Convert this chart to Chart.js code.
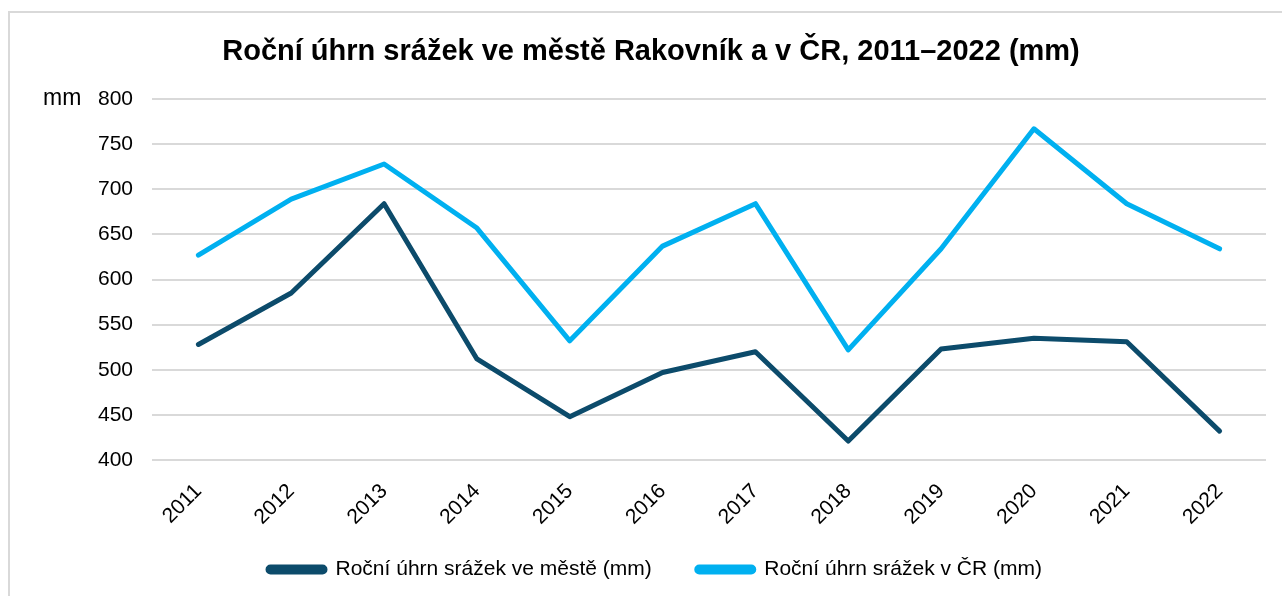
<!DOCTYPE html>
<html>
<head>
<meta charset="utf-8">
<script src="https://cdn.jsdelivr.net/npm/chart.js@4"></script>
<style>
  html, body { margin: 0; padding: 0; background: #fff; overflow: hidden; }
  #wrap { position: relative; width: 1282px; height: 596px; }
  #frame {
    position: absolute; left: 8px; top: 11px; width: 1300px; height: 620px;
    border: 2px solid #d9d9d9; box-sizing: border-box;
  }
  canvas { position: absolute; left: 0; top: 0; }
</style>
</head>
<body>
<div id="wrap">
  <div id="frame"></div>
  <canvas id="rainChart" width="1282" height="596"></canvas>
</div>
<script>
// Years on the x axis
const years = ["2011", "2012", "2013", "2014", "2015", "2016",
               "2017", "2018", "2019", "2020", "2021", "2022"];

// Annual precipitation in Rakovník (mm)
const cityRain = [528, 585, 684, 512, 448, 497, 520, 421, 523, 535, 531, 432];

// Annual precipitation in the whole Czech Republic (mm)
const czRain = [627, 689, 728, 657, 532, 637, 684, 522, 634, 767, 684, 634];

// Y axis range
const yMin = 400;
const yMax = 800;
const yStep = 50;

const titleText = "Roční úhrn srážek ve městě Rakovník a v ČR, 2011–2022 (mm)";
const darkBlue = "#0c4b6b";
const lightBlue = "#00b0f0";
const fontFamily = "'Liberation Sans', Arial, sans-serif";

// Title and the "mm" unit next to the top tick, drawn by hand
const extraText = {
  id: "extraText",
  afterDraw(chart) {
    const y = chart.scales.y;
    const ctx = chart.ctx;
    ctx.save();
    ctx.fillStyle = "#000";

    ctx.font = "bold 29px " + fontFamily;
    ctx.textAlign = "center";
    ctx.textBaseline = "alphabetic";
    ctx.fillText(titleText, 651, 60);

    ctx.font = "23px " + fontFamily;
    ctx.textAlign = "left";
    ctx.textBaseline = "middle";
    ctx.fillText("mm", 43, y.getPixelForValue(yMax));
    ctx.restore();
  },
};

const ctx = document.getElementById("rainChart").getContext("2d");
new Chart(ctx, {
  type: "line",
  data: {
    labels: years,
    datasets: [
      {
        label: "Roční úhrn srážek ve městě (mm)",
        data: cityRain,
        borderColor: darkBlue,
        backgroundColor: darkBlue,
        borderWidth: 5,
        pointRadius: 0,
        tension: 0,
        borderCapStyle: "round",
        borderJoinStyle: "round",
      },
      {
        label: "Roční úhrn srážek v ČR (mm)",
        data: czRain,
        borderColor: lightBlue,
        backgroundColor: lightBlue,
        borderWidth: 5,
        pointRadius: 0,
        tension: 0,
        borderCapStyle: "round",
        borderJoinStyle: "round",
      },
    ],
  },
  options: {
    responsive: false,
    animation: false,
    layout: { padding: { left: 44, right: 16, top: 99, bottom: 6 } },
    plugins: {
      title: { display: false },
      legend: {
        position: "bottom",
        labels: {
          color: "#000",
          font: { family: fontFamily, size: 21 },
          boxWidth: 57,
          boxHeight: 5,
          padding: 10,
          useBorderRadius: true,
          borderRadius: 2.5,
          // pad all but the last label with spaces to widen the gap between items
          generateLabels(chart) {
            const items = Chart.defaults.plugins.legend.labels.generateLabels(chart);
            items.forEach((item, i) => {
              if (i < items.length - 1) item.text += "      ";
            });
            return items;
          },
        },
      },
      tooltip: { enabled: false },
    },
    scales: {
      x: {
        offset: true,
        afterFit(scale) { scale.height = 89; },
        grid: { display: false, drawTicks: false },
        border: { display: false },
        ticks: {
          color: "#000",
          font: { family: fontFamily, size: 21 },
          maxRotation: 45,
          minRotation: 45,
          padding: 19,
        },
      },
      y: {
        min: yMin,
        max: yMax,
        afterFit(scale) { scale.width = 108; },
        grid: { color: "#d9d9d9", lineWidth: 2, drawTicks: false },
        border: { display: false },
        ticks: {
          stepSize: yStep,
          color: "#000",
          font: { family: fontFamily, size: 21 },
          padding: 19,
        },
      },
    },
  },
  plugins: [extraText],
});
</script>
</body>
</html>
